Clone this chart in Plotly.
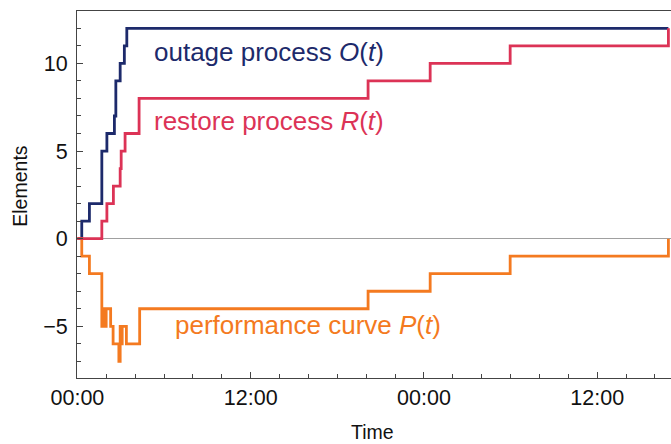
import plotly.graph_objects as go
import pandas as pd

# ---- data (hours after start, step values) ----
o_hours = [0, 0.30, 0.83, 1.69, 2.04, 2.56, 2.66, 2.96, 3.25, 3.42, 40.93]
o_vals = [0, 1, 2, 5, 6, 7, 9, 10, 11, 12, 12]

r_hours = [0, 1.69, 2.04, 2.49, 2.96, 3.03, 3.30, 4.27, 20.13, 24.43, 29.97, 40.93]
r_vals = [0, 1, 2, 3, 4, 5, 6, 8, 9, 10, 11, 12]

p_hours = [0, 0.30, 0.83, 1.69, 1.75, 1.92, 1.99, 2.30, 2.47, 2.87, 2.96, 3.03,
           3.10, 3.39, 4.31, 20.13, 24.43, 29.97, 40.93]
p_vals = [0, -1, -2, -5, -4, -5, -4, -5, -6, -7, -5, -6, -5, -6, -4, -3, -2, -1, 0]

base = pd.Timestamp("2024-01-01 00:00")


def to_time(hours):
    return [base + pd.Timedelta(hours=h) for h in hours]


NAVY = "#1d2a6b"
RED = "#dc3356"
ORANGE = "#f47a20"
FRAME = "#444444"
FONT = "Liberation Sans, Arial, sans-serif"

fig = go.Figure()
fig.add_trace(go.Scatter(x=to_time(o_hours), y=o_vals, mode="lines",
                         line=dict(shape="hv", color=NAVY, width=2.8), showlegend=False))
fig.add_trace(go.Scatter(x=to_time(p_hours), y=p_vals, mode="lines",
                         line=dict(shape="hv", color=ORANGE, width=2.8), showlegend=False))
fig.add_trace(go.Scatter(x=to_time(r_hours), y=r_vals, mode="lines",
                         line=dict(shape="hv", color=RED, width=2.8), showlegend=False))

x0 = base - pd.Timedelta(hours=0.03)
x1 = base + pd.Timedelta(hours=41.11)

fig.update_layout(
    width=671, height=444,
    margin=dict(l=77, r=0, t=11, b=66),
    paper_bgcolor="white", plot_bgcolor="white",
    font=dict(family=FONT, color="#111111"),
    xaxis=dict(
        type="date", range=[x0, x1],
        tick0=base, dtick=12 * 3600 * 1000, tickformat="%H:%M",
        ticks="inside", ticklen=6, tickwidth=1, tickcolor=FRAME,
        minor=dict(dtick=2 * 3600 * 1000, tick0=base, ticks="inside", ticklen=4,
                   tickwidth=1, tickcolor=FRAME, showgrid=False),
        showline=True, linecolor=FRAME, linewidth=1, mirror=True,
        showgrid=False, zeroline=False,
        tickfont=dict(size=21.5, family=FONT, color="#111111"),
        ticklabelstandoff=0,
    ),
    yaxis=dict(
        range=[-7.95, 12.99],
        tick0=0, dtick=5,
        ticks="inside", ticklen=6, tickwidth=1, tickcolor=FRAME,
        minor=dict(dtick=1, tick0=0, ticks="inside", ticklen=4,
                   tickwidth=1, tickcolor=FRAME, showgrid=False),
        showline=True, linecolor=FRAME, linewidth=1, mirror=False,
        showgrid=False,
        zeroline=True, zerolinecolor="#a0a0a0", zerolinewidth=1,
        tickfont=dict(size=21.5, family=FONT, color="#111111"),
        ticklabelstandoff=4,
    ),
    annotations=[
        dict(text="outage process <i>O</i>(<i>t</i>)", xref="paper", yref="paper",
             x=0.127, y=0.8876, xanchor="left", yanchor="middle", showarrow=False,
             font=dict(size=26, color=NAVY, family=FONT)),
        dict(text="restore process <i>R</i>(<i>t</i>)", xref="paper", yref="paper",
             x=0.127, y=0.6997, xanchor="left", yanchor="middle", showarrow=False,
             font=dict(size=26, color=RED, family=FONT)),
        dict(text="performance curve <i>P</i>(<i>t</i>)", xref="paper", yref="paper",
             x=0.161, y=0.1443, xanchor="left", yanchor="middle", showarrow=False,
             font=dict(size=26, color=ORANGE, family=FONT)),
        dict(text="Time", xref="paper", yref="paper",
             x=0.498, y=-0.146, xanchor="center", yanchor="middle", showarrow=False,
             font=dict(size=19.5, color="#111111", family=FONT)),
        dict(text="Elements", xref="paper", yref="paper", textangle=-90,
             x=-0.0965, y=0.523, xanchor="center", yanchor="middle", showarrow=False,
             font=dict(size=19.5, color="#111111", family=FONT)),
    ],
)

fig.write_html("out.html", config={"displayModeBar": False},
               post_script="document.body.style.margin='0';document.body.style.overflow='hidden';")
